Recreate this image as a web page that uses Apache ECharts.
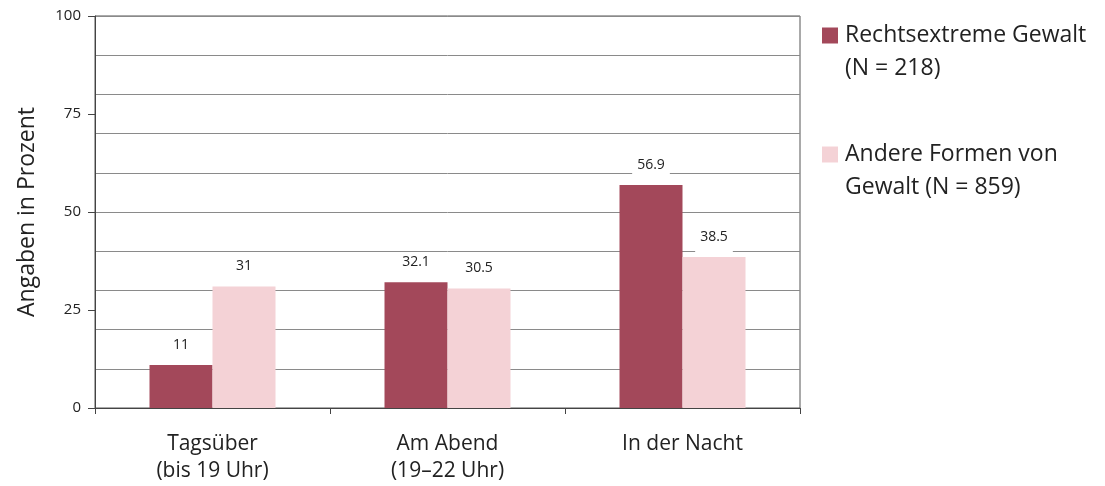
<!DOCTYPE html>
<html><head><meta charset="utf-8">
<script src="https://cdn.jsdelivr.net/npm/echarts@6/dist/echarts.min.js"></script>
<style>html,body{margin:0;padding:0;background:#fff}#c{width:1105px;height:486px}</style>
</head><body><div id="c"></div>
<script>
const categories = ['Tagsüber\n(bis 19 Uhr)', 'Am Abend\n(19–22 Uhr)', 'In der Nacht'];
const seriesNames = ['Rechtsextreme Gewalt\n(N = 218)', 'Andere Formen von\nGewalt (N = 859)'];
const rechtsextrem = [11, 32.1, 56.9];
const andere = [31, 30.5, 38.5];
const yTicks = [0, 25, 50, 75, 100];

const FONT = '"Open Sans", "Noto Sans", sans-serif';
const TXT = '#222';
const chart = echarts.init(document.getElementById('c'));
const labelStyle = {
  show: true, position: 'top', distance: 1, color: TXT, fontSize: 14, fontFamily: FONT,
  backgroundColor: '#fff', padding: [1, 5, 12, 5]
};
chart.setOption({
  animation: false,
  grid: { left: 95, right: 305, top: 16, bottom: 78, show: true, borderColor: '#555', borderWidth: 1 },
  legend: {
    orient: 'vertical', left: 822, top: -14, padding: 0, itemWidth: 16, itemHeight: 16, itemGap: 20,
    icon: 'rect', align: 'left',
    formatter: name => '\n' + name,
    textStyle: { fontSize: 23, fontFamily: FONT, color: TXT, lineHeight: 33, padding: [0, 0, 0, 2] },
    data: seriesNames
  },
  xAxis: {
    type: 'category', data: categories,
    axisLine: { lineStyle: { color: '#444' } },
    axisTick: { show: true, length: 6, lineStyle: { color: '#444' } },
    axisLabel: { fontSize: 21, fontFamily: FONT, color: TXT, margin: 23, lineHeight: 27 }
  },
  yAxis: [
    {
      type: 'value', min: 0, max: 100, interval: 25,
      name: 'Angaben in Prozent', nameLocation: 'middle', nameGap: 56, nameRotate: 90,
      nameTextStyle: { fontSize: 23, fontFamily: FONT, color: TXT },
      axisLine: { show: true, lineStyle: { color: '#444' } },
      axisTick: { show: true, length: 7, lineStyle: { color: '#444' } },
      axisLabel: { fontSize: 15, fontFamily: FONT, color: TXT, margin: 14,
        formatter: v => (yTicks.includes(v) ? String(v) : '') },
      splitLine: { show: false }
    },
    {
      type: 'value', min: 0, max: 100, interval: 10, position: 'left',
      axisLine: { show: false }, axisTick: { show: false }, axisLabel: { show: false },
      splitLine: { show: true, lineStyle: { color: '#8a8a8a', width: 1 } }
    }
  ],
  series: [
    {
      name: seriesNames[0], type: 'bar', data: rechtsextrem, barWidth: 63, barGap: '0%',
      yAxisIndex: 0, z: 3,
      itemStyle: { color: '#a3485a' }, label: labelStyle
    },
    {
      name: seriesNames[1], type: 'bar', data: andere, barWidth: 63, barGap: '0%',
      yAxisIndex: 0, z: 3,
      itemStyle: { color: '#f4d2d6' }, label: labelStyle
    }
  ]
});
</script></body></html>
